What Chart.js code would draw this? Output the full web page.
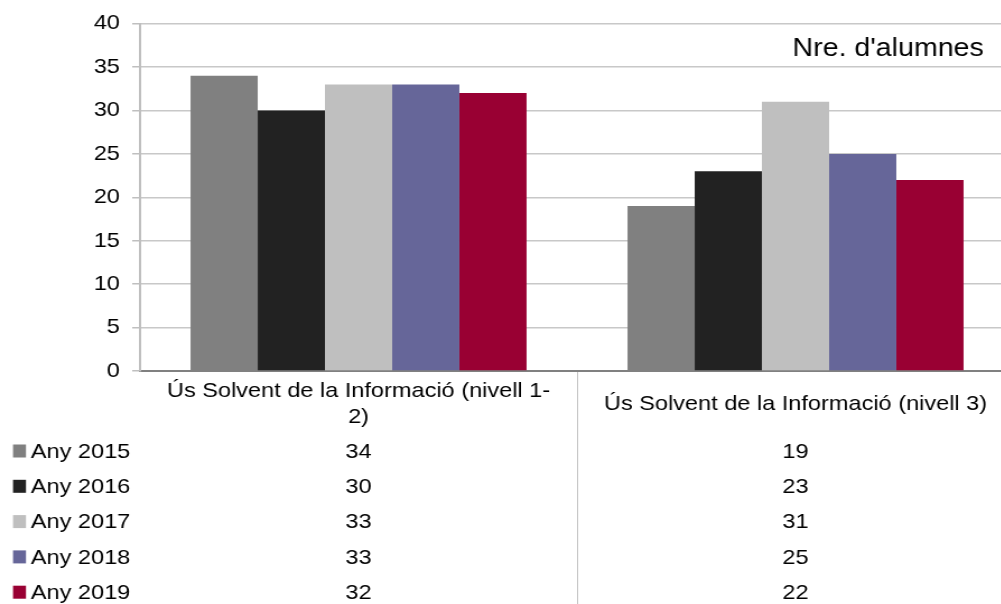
<!DOCTYPE html>
<html>
<head>
<meta charset="utf-8">
<script src="https://cdn.jsdelivr.net/npm/chart.js@4.4.1/dist/chart.umd.min.js"></script>
<style>
  html, body { margin: 0; padding: 0; overflow: hidden; background: #fff; }
  #grafic { display: block; }
</style>
</head>
<body>
<!-- the original picture is stretched a little in width, so the canvas is too -->
<canvas id="grafic" width="905" height="604" style="width:1013.6px;height:604px"></canvas>
<script>
const categories = [
  ['Ús Solvent de la Informació (nivell 1-', '2)'],
  ['Ús Solvent de la Informació (nivell 3)']
];
const series = ['Any 2015', 'Any 2016', 'Any 2017', 'Any 2018', 'Any 2019'];
const any2015 = [34, 19];
const any2016 = [30, 23];
const any2017 = [33, 31];
const any2018 = [33, 25];
const any2019 = [32, 22];
const colors = ['#808080', '#222222', '#bfbfbf', '#666699', '#990033'];
const valors = [any2015, any2016, any2017, any2018, any2019];
const titol = "Nre. d'alumnes";

const font = '"Liberation Sans", Arial, sans-serif';
Chart.defaults.font.family = font;
Chart.defaults.font.size = 21;
Chart.defaults.color = '#000';

// data table under the plot, aligned with the category scale
const taula = {
  id: 'taula',
  afterDraw(chart) {
    const ctx = chart.ctx;
    const x = chart.scales.x;
    const area = chart.chartArea;
    ctx.save();

    const mig = (x.getPixelForValue(0) + x.getPixelForValue(1)) / 2;
    ctx.strokeStyle = '#c0c0c0';
    ctx.lineWidth = 1;
    ctx.beginPath();
    ctx.moveTo(Math.round(mig) + 0.5, area.bottom + 1);
    ctx.lineTo(Math.round(mig) + 0.5, chart.height);
    ctx.stroke();

    ctx.fillStyle = '#000';
    ctx.font = '21px ' + font;
    ctx.textBaseline = 'middle';
    ctx.textAlign = 'center';
    categories.forEach((lab, i) => {
      const cx = x.getPixelForValue(i);
      const linies = Array.isArray(lab) ? lab : [lab];
      const y0 = area.bottom + 33 - (linies.length - 1) * 13;
      linies.forEach((t, j) => ctx.fillText(t, cx, y0 + j * 26));
    });

    series.forEach((nom, k) => {
      const y = area.bottom + 81 + k * 35.3;
      ctx.fillStyle = colors[k];
      ctx.fillRect(11.6, y - 7.5, 11.6, 13);
      ctx.fillStyle = '#000';
      ctx.textAlign = 'left';
      ctx.fillText(nom, 27.5, y);
      ctx.textAlign = 'center';
      valors[k].forEach((v, i) => ctx.fillText(String(v), x.getPixelForValue(i), y));
    });

    ctx.font = '25.5px ' + font;
    ctx.textAlign = 'right';
    ctx.fillText(titol, 878, 49);
    ctx.restore();
  }
};

new Chart(document.getElementById('grafic').getContext('2d'), {
  type: 'bar',
  data: {
    labels: categories,
    datasets: series.map((nom, k) => ({
      label: nom,
      data: valors[k],
      backgroundColor: colors[k],
      borderWidth: 0,
      categoryPercentage: 0.769,
      barPercentage: 1.0
    }))
  },
  options: {
    responsive: false,
    animation: false,
    devicePixelRatio: 1,
    layout: { padding: { top: 23, left: 0, right: 0, bottom: 0 } },
    plugins: {
      legend: { display: false },
      tooltip: { enabled: false },
      title: { display: false }
    },
    scales: {
      x: {
        ticks: { display: false },
        grid: { display: false },
        border: { color: '#808080', width: 2 },
        afterFit(scale) { scale.height = 233; }
      },
      y: {
        min: 0,
        max: 40,
        ticks: { stepSize: 5, padding: 11 },
        grid: { color: '#c8c8c8', lineWidth: 1.5, tickLength: 7, tickColor: '#bfbfbf' },
        border: { color: '#bfbfbf', width: 2 },
        afterFit(scale) { scale.width = 125; }
      }
    }
  },
  plugins: [taula]
});
</script>
</body>
</html>
